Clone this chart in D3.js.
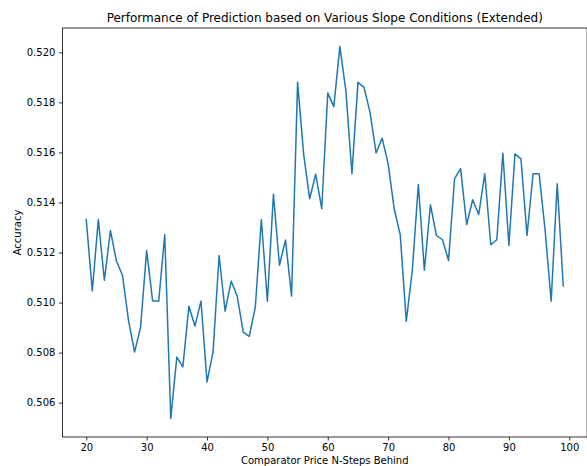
<!DOCTYPE html>
<html>
<head>
<meta charset="utf-8">
<script src="https://cdn.jsdelivr.net/npm/d3@7"></script>
<style>
  html, body { margin: 0; padding: 0; background: #fff; }
  svg { display: block; font-family: "DejaVu Sans", sans-serif; }
</style>
</head>
<body>
<svg id="chart" width="587" height="466"></svg>
<script>
// Look-back step counts (comparator price N steps behind)
const steps = d3.range(20, 100);

// Prediction accuracy for each look-back step
const accuracy = [
  0.51332, 0.51046, 0.51332, 0.51089, 0.51288, 0.51166, 0.51109, 0.50929, 0.50802, 0.50902,
  0.51208, 0.51006, 0.51006, 0.51271, 0.50537, 0.50782, 0.50743, 0.50985, 0.50906, 0.51006,
  0.50683, 0.50802, 0.51188, 0.50966, 0.51086, 0.51026, 0.50882, 0.50865, 0.50982, 0.51332,
  0.51005, 0.51433, 0.51149, 0.51250, 0.51026, 0.51880, 0.51594, 0.51415, 0.51513, 0.51375,
  0.51838, 0.51783, 0.52023, 0.51847, 0.51515, 0.51880, 0.51860, 0.51760, 0.51598, 0.51657,
  0.51554, 0.51375, 0.51271, 0.50925, 0.51129, 0.51472, 0.51129, 0.51391, 0.51268, 0.51251,
  0.51168, 0.51495, 0.51535, 0.51312, 0.51411, 0.51352, 0.51515, 0.51231, 0.51251, 0.51597,
  0.51228, 0.51594, 0.51574, 0.51268, 0.51515, 0.51515, 0.51288, 0.51005, 0.51475, 0.51066
];

const xTicks = [20, 30, 40, 50, 60, 70, 80, 90, 100];
const yTicks = [0.506, 0.508, 0.510, 0.512, 0.514, 0.516, 0.518, 0.520];

const titleText = "Performance of Prediction based on Various Slope Conditions (Extended)";
const xLabelText = "Comparator Price N-Steps Behind";
const yLabelText = "Accuracy";

const svg = d3.select("#chart");
const margin = { left: 62.4, top: 28, right: 587.1, bottom: 437 };

// 5% padding around the data range on both axes
const xMin = d3.min(steps), xMax = d3.max(steps);
const xPad = (xMax - xMin) * 0.05;
const yMin = d3.min(accuracy), yMax = d3.max(accuracy);
const yPad = (yMax - yMin) * 0.05;

const x = d3.scaleLinear()
  .domain([xMin - xPad, xMax + xPad])
  .range([margin.left, margin.right]);

const y = d3.scaleLinear()
  .domain([yMin - yPad, yMax + yPad])
  .range([margin.bottom, margin.top]);

// Axes
const xAxis = svg.append("g")
  .attr("transform", `translate(0,${margin.bottom})`)
  .call(d3.axisBottom(x).tickValues(xTicks).tickFormat(d3.format("d")).tickSize(3.5).tickPadding(3.5));

const yAxis = svg.append("g")
  .attr("transform", `translate(${margin.left},0)`)
  .call(d3.axisLeft(y).tickValues(yTicks).tickFormat(d3.format(".3f")).tickSize(3.5).tickPadding(3.5));

[xAxis, yAxis].forEach(g => {
  g.select(".domain").remove();
  g.selectAll(".tick line").attr("stroke", "#000").attr("stroke-width", 0.8);
  g.selectAll(".tick text")
    .attr("fill", "#000")
    .style("font-family", "'DejaVu Sans', sans-serif")
    .style("font-size", "10px");
});

// Plot frame
svg.append("rect")
  .attr("x", margin.left)
  .attr("y", margin.top)
  .attr("width", margin.right - margin.left)
  .attr("height", margin.bottom - margin.top)
  .attr("fill", "none")
  .attr("stroke", "#000")
  .attr("stroke-width", 0.8);

// Accuracy line
const line = d3.line()
  .x((d, i) => x(steps[i]))
  .y(d => y(d));

svg.append("path")
  .datum(accuracy)
  .attr("d", line)
  .attr("fill", "none")
  .attr("stroke", "#1f77b4")
  .attr("stroke-width", 1.5)
  .attr("stroke-linejoin", "round")
  .attr("stroke-linecap", "square");

// Title and axis labels
const cx = (margin.left + margin.right) / 2;

svg.append("text")
  .attr("x", cx)
  .attr("y", 22)
  .attr("text-anchor", "middle")
  .style("font-size", "12px")
  .attr("fill", "#000")
  .text(titleText);

svg.append("text")
  .attr("x", cx)
  .attr("y", 464)
  .attr("text-anchor", "middle")
  .style("font-size", "10px")
  .attr("fill", "#000")
  .text(xLabelText);

svg.append("text")
  .attr("transform", `translate(21,${(margin.top + margin.bottom) / 2}) rotate(-90)`)
  .attr("text-anchor", "middle")
  .style("font-size", "10px")
  .attr("fill", "#000")
  .text(yLabelText);
</script>
</body>
</html>
